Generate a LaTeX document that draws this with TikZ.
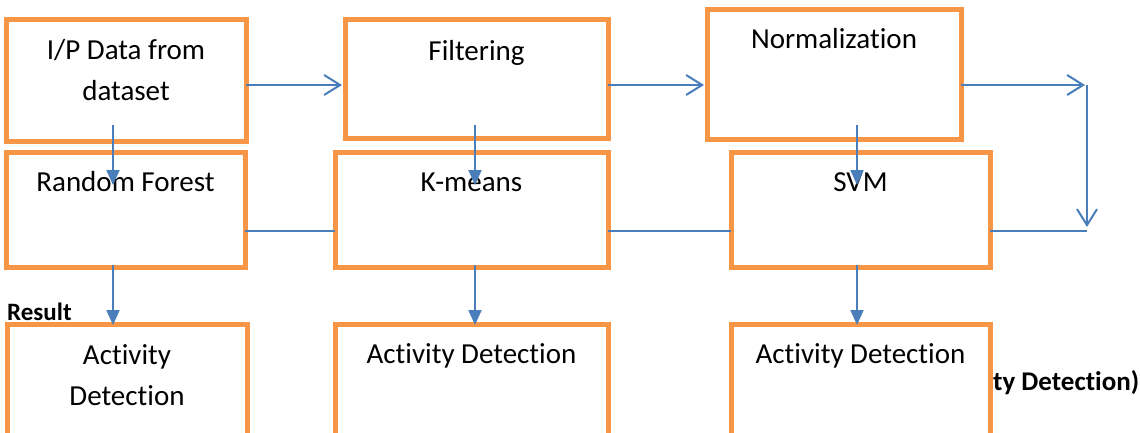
\documentclass[tikz,border=0pt]{standalone}
\usepackage{fontspec}
\setmainfont{Carlito}[Ligatures=NoCommon]
\usetikzlibrary{arrows.meta, calc, positioning}
\definecolor{boxorange}{HTML}{F79646}
\definecolor{lineblue}{HTML}{4A7EBB}
\tikzset{
	stage/.style={draw=boxorange, line width=5pt, fill=white, outer sep=0pt, inner sep=0pt},
	stagetext/.style={anchor=base, align=center, inner sep=0pt, font=\fontsize{29}{41}\selectfont},
	flow/.style={draw=lineblue, line width=2pt, -{Straight Barb[length=16pt, width=20pt]}},
	down/.style={draw=lineblue, line width=2pt, -{Triangle[length=15pt, width=13pt]}},
	link/.style={draw=lineblue, line width=2pt},
	note/.style={anchor=base west, inner sep=0pt, font=\bfseries\fontsize{25}{25}\selectfont}
}

\begin{document}
\begin{tikzpicture}[x=1pt, y=-1pt]
				\useasboundingbox (0,0) rectangle (1140,432);
				\clip (0,0) rectangle (1140,432);
				
				% first row
				\node[stage, minimum width=240pt, minimum height=122pt] (ip) at (126,80) {};
				\node[stage, minimum width=263pt, minimum height=119pt] (flt) at (476.5,78.5) {};
				\node[stage, minimum width=254pt, minimum height=130pt] (nrm) at (834,74) {};
				
				% second row
				\node[stage, minimum width=239pt, minimum height=115pt] (rf) at (125.5,209.5) {};
				\node[stage, minimum width=273pt, minimum height=115pt] (km) at (471.5,209.5) {};
				\node[stage, minimum width=259pt, minimum height=115pt] (svm) at (860.5,209.5) {};
				
				% third row
				\node[stage, minimum width=240pt, minimum height=130pt] (adrf) at (127,389) {};
				\node[stage, minimum width=273pt, minimum height=130pt] (adkm) at (471.5,389) {};
				\node[stage, minimum width=259pt, minimum height=130pt] (adsvm) at (860.5,389) {};
				
				% two-line texts sit on their last line
				\node[stagetext] (iptext) at ($(ip.north)+(0,81)$) {I/P Data from\\dataset};
				\node[stagetext] (flttext) at ($(flt.north)+(0,41)$) {Filtering};
				\node[stagetext] (nrmtext) at ($(nrm.north)+(0,39)$) {Normalization};
				\node[stagetext] (rftext) at ($(rf.north)+(0,39)$) {Random Forest};
				\node[stagetext] (kmtext) at ($(km.north)+(0,39)$) {K-means};
				\node[stagetext] (svmtext) at ($(svm.north)+(0,39)$) {SVM};
				\node[stagetext] (adrftext) at ($(adrf.north)+(0,81)$) {Activity\\Detection};
				\node[stagetext] (adkmtext) at ($(adkm.north)+(0,39)$) {Activity Detection};
				\node[stagetext] (adsvmtext) at ($(adsvm.north)+(0,39)$) {Activity Detection};
				
				\node[note] (result) at (7,320) {Result};
				\node[note, font=\bfseries\fontsize{27}{27}\selectfont] (tail) at (993,390) {ty Detection)};
				
				\coordinate (rtop) at (1087,85);
				\coordinate (rbot) at (1087,231);
				
				\draw[flow] ($(ip.east)+(0,5)$) -- ($(flt.west)+(-3,6.5)$);
				\draw[flow] ($(flt.east)+(0,6.5)$) -- ($(nrm.west)+(-3,11)$);
				\draw[flow] ($(nrm.east)+(0,11)$) -- ($(rtop)+(-2,0)$);
				\draw[flow] (rtop) -- ($(rbot)+(0,-4)$);
				\draw[link] ($(svm.east)+(0,21.5)$) -- (rbot);
				\draw[link] ($(rf.east)+(0,21.5)$) -- ($(km.west)+(0,21.5)$);
				\draw[link] ($(km.east)+(0,21.5)$) -- ($(svm.west)+(0,21.5)$);
				
				\draw[down] ($(ip.south)+(-13,-16)$) -- ($(rf.north)+(-12.5,33)$);
				\draw[down] ($(flt.south)+(-1.5,-13)$) -- ($(km.north)+(3.5,33)$);
				\draw[down] ($(nrm.south)+(23,-14)$) -- ($(svm.north)+(-3.5,33)$);
				\draw[down] ($(rf.south)+(-12.5,-2)$) -- ($(adrf.north)+(-14,1)$);
				\draw[down] ($(km.south)+(3.5,-2)$) -- ($(adkm.north)+(3.5,1)$);
				\draw[down] ($(svm.south)+(-3.5,-2)$) -- ($(adsvm.north)+(-3.5,1)$);
			\end{tikzpicture}
\end{document}
